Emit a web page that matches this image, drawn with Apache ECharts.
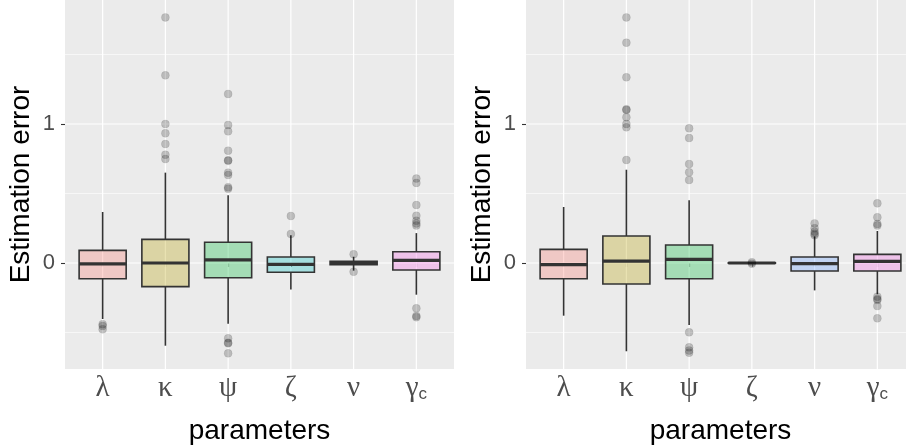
<!DOCTYPE html>
<html><head><meta charset="utf-8">
<script src="https://cdn.jsdelivr.net/npm/echarts@6/dist/echarts.min.js"></script>
<style>html,body{margin:0;padding:0;background:#fff}#c{width:906px;height:446px}</style>
</head><body><div id="c"></div>
<script>
// ---------- data ----------
const categories = ['λ', 'κ', 'ψ', 'ζ', 'ν', 'γ'];
const categorySubscripts = ['', '', '', '', '', 'c'];
const categoryPositions = [1, 2, 3, 4, 5, 6];
const yTickValues = [0, 1];
const yMajorGrid = [0, 1];
const yMinorGrid = [-0.5, 0.5, 1.5];
const yAxisTitle = 'Estimation error';
const xAxisTitle = 'parameters';

// [lower whisker, Q1, median, Q3, upper whisker]
const boxStatsLeft = [
  [-0.403, -0.113, -0.007, 0.091, 0.367],
  [-0.595, -0.170, 0.000, 0.170, 0.650],
  [-0.437, -0.106, 0.022, 0.149, 0.487],
  [-0.190, -0.067, -0.010, 0.043, 0.200],
  [-0.055, -0.013, 0.000, 0.013, 0.045],
  [-0.228, -0.050, 0.019, 0.081, 0.215]
];
const outliersLeft = [
  [-0.440, -0.453, -0.477],
  [1.767, 1.350, 1.000, 0.933, 0.856, 0.779, 0.748],
  [1.216, 0.993, 0.947, 0.808, 0.739, 0.735, 0.650, 0.633, 0.545, 0.535, -0.542, -0.574, -0.578, -0.650],
  [0.338, 0.209],
  [0.063, -0.063],
  [0.607, 0.576, 0.417, 0.340, 0.304, 0.285, 0.270, -0.326, -0.381, -0.390]
];
const boxStatsRight = [
  [-0.379, -0.113, -0.012, 0.098, 0.403],
  [-0.635, -0.151, 0.014, 0.194, 0.671],
  [-0.446, -0.113, 0.026, 0.129, 0.451],
  [-0.004, -0.002, 0.000, 0.002, 0.004],
  [-0.197, -0.058, -0.005, 0.043, 0.192],
  [-0.225, -0.058, 0.012, 0.062, 0.230]
];
const outliersRight = [
  [],
  [1.767, 1.585, 1.336, 1.106, 1.100, 1.048, 1.000, 0.976, 0.741],
  [0.969, 0.899, 0.712, 0.652, 0.597, -0.499, -0.607, -0.630, -0.645],
  [0.005, -0.005],
  [0.285, 0.250, 0.225, 0.210, 0.200],
  [0.429, 0.329, 0.281, 0.270, -0.242, -0.259, -0.266, -0.310, -0.398]
];
const fillColors = [
  'rgba(248,118,109,0.3)', 'rgba(183,159,0,0.3)', 'rgba(0,186,56,0.3)',
  'rgba(0,191,196,0.3)', 'rgba(97,156,255,0.3)', 'rgba(245,100,227,0.3)'
];

// ---------- layout / style ----------
const Y_MIN = -0.7626, Y_MAX = 1.892;
const X_MIN = 0.4, X_MAX = 6.6;
const BOX_WIDTH = 0.75;
const panelLefts = [65, 526];
const PANEL_W = 389, PANEL_H = 369;
const INK = '#333333';

function gridLineData() {
  const d = [];
  yMinorGrid.forEach(v => d.push([0, v]));
  yMajorGrid.forEach(v => d.push([1, v]));
  categoryPositions.forEach(v => d.push([2, v]));
  return d;
}
function renderGridLine(params, api) {
  const kind = api.value(0), v = api.value(1);
  let a, b;
  if (kind === 2) { a = api.coord([v, Y_MIN]); b = api.coord([v, Y_MAX]); }
  else { a = api.coord([X_MIN, v]); b = api.coord([X_MAX, v]); }
  return { type: 'line', shape: { x1: a[0], y1: a[1], x2: b[0], y2: b[1] },
    style: { stroke: '#FFFFFF', lineWidth: kind === 0 ? 0.6 : 1.2 } };
}
function renderBox(params, api) {
  const x = api.value(0);
  const lo = api.value(1), q1 = api.value(2), med = api.value(3), q3 = api.value(4), hi = api.value(5);
  const halfW = api.size([BOX_WIDTH, 0])[0] / 2;
  const pLo = api.coord([x, lo]), pQ1 = api.coord([x, q1]), pMed = api.coord([x, med]),
        pQ3 = api.coord([x, q3]), pHi = api.coord([x, hi]);
  const lw = 1.6;
  return { type: 'group', children: [
    { type: 'line', shape: { x1: pLo[0], y1: pLo[1], x2: pQ1[0], y2: pQ1[1] }, style: { stroke: INK, lineWidth: lw } },
    { type: 'line', shape: { x1: pQ3[0], y1: pQ3[1], x2: pHi[0], y2: pHi[1] }, style: { stroke: INK, lineWidth: lw } },
    { type: 'rect', shape: { x: pQ1[0] - halfW, y: pQ3[1], width: 2 * halfW, height: pQ1[1] - pQ3[1] },
      style: { fill: fillColors[params.dataIndex], stroke: INK, lineWidth: lw } },
    { type: 'line', shape: { x1: pMed[0] - halfW, y1: pMed[1], x2: pMed[0] + halfW, y2: pMed[1] },
      style: { stroke: INK, lineWidth: 3.2 } }
  ] };
}

const grids = [], xAxes = [], yAxes = [], series = [];
[[boxStatsLeft, outliersLeft], [boxStatsRight, outliersRight]].forEach(([stats, outs], p) => {
  grids.push({ left: panelLefts[p], top: 0, width: PANEL_W, height: PANEL_H, show: true,
    backgroundColor: '#EBEBEB', borderWidth: 0, containLabel: false, outerBoundsMode: 'none' });
  xAxes.push({
    gridIndex: p, type: 'value', min: X_MIN, max: X_MAX,
    axisLine: { show: false }, splitLine: { show: false },
    axisTick: { show: true, customValues: categoryPositions, length: 4, lineStyle: { color: INK, width: 1.1 } },
    axisLabel: {
      customValues: categoryPositions, margin: 6,
      formatter: v => {
        const i = categoryPositions.indexOf(v);
        if (i < 0) return '';
        return '{g|' + categories[i] + '}' + (categorySubscripts[i] ? '{s|' + categorySubscripts[i] + '}' : '');
      },
      rich: {
        g: { fontFamily: 'Liberation Serif', fontSize: 29, color: '#4D4D4D', verticalAlign: 'bottom', lineHeight: 28 },
        s: { fontFamily: 'Liberation Sans', fontSize: 17, color: '#4D4D4D', verticalAlign: 'bottom', lineHeight: 21 }
      }
    },
    name: xAxisTitle, nameLocation: 'middle', nameGap: 48,
    nameTextStyle: { fontFamily: 'Liberation Sans', fontSize: 28, color: '#000000' }
  });
  yAxes.push({
    gridIndex: p, type: 'value', min: Y_MIN, max: Y_MAX,
    axisLine: { show: false }, splitLine: { show: false },
    axisTick: { show: true, customValues: yTickValues, length: 4, lineStyle: { color: INK, width: 1.1 } },
    axisLabel: { customValues: yTickValues, margin: 10, fontFamily: 'Liberation Sans', fontSize: 22, color: '#4D4D4D' },
    name: yAxisTitle, nameLocation: 'middle', nameGap: 30, nameRotate: 90,
    nameTextStyle: { fontFamily: 'Liberation Sans', fontSize: 28, color: '#000000' }
  });
  series.push({
    type: 'custom', xAxisIndex: p, yAxisIndex: p, z: 1, silent: true, clip: false,
    renderItem: renderGridLine, data: gridLineData()
  });
  series.push({
    type: 'custom', xAxisIndex: p, yAxisIndex: p, z: 2, silent: true,
    renderItem: renderBox,
    data: stats.map((s, i) => [categoryPositions[i]].concat(s))
  });
  const pts = [];
  outs.forEach((arr, i) => arr.forEach(v => pts.push([categoryPositions[i], v])));
  series.push({
    type: 'scatter', xAxisIndex: p, yAxisIndex: p, z: 3, silent: true,
    symbol: 'circle', symbolSize: 8,
    itemStyle: { color: 'rgba(0,0,0,0.26)', borderColor: 'rgba(0,0,0,0.12)', borderWidth: 0.8 },
    data: pts
  });
});

const chart = echarts.init(document.getElementById('c'), null, { renderer: 'canvas' });
chart.setOption({
  animation: false,
  backgroundColor: '#FFFFFF',
  grid: grids, xAxis: xAxes, yAxis: yAxes, series: series
});
</script>
</body></html>
